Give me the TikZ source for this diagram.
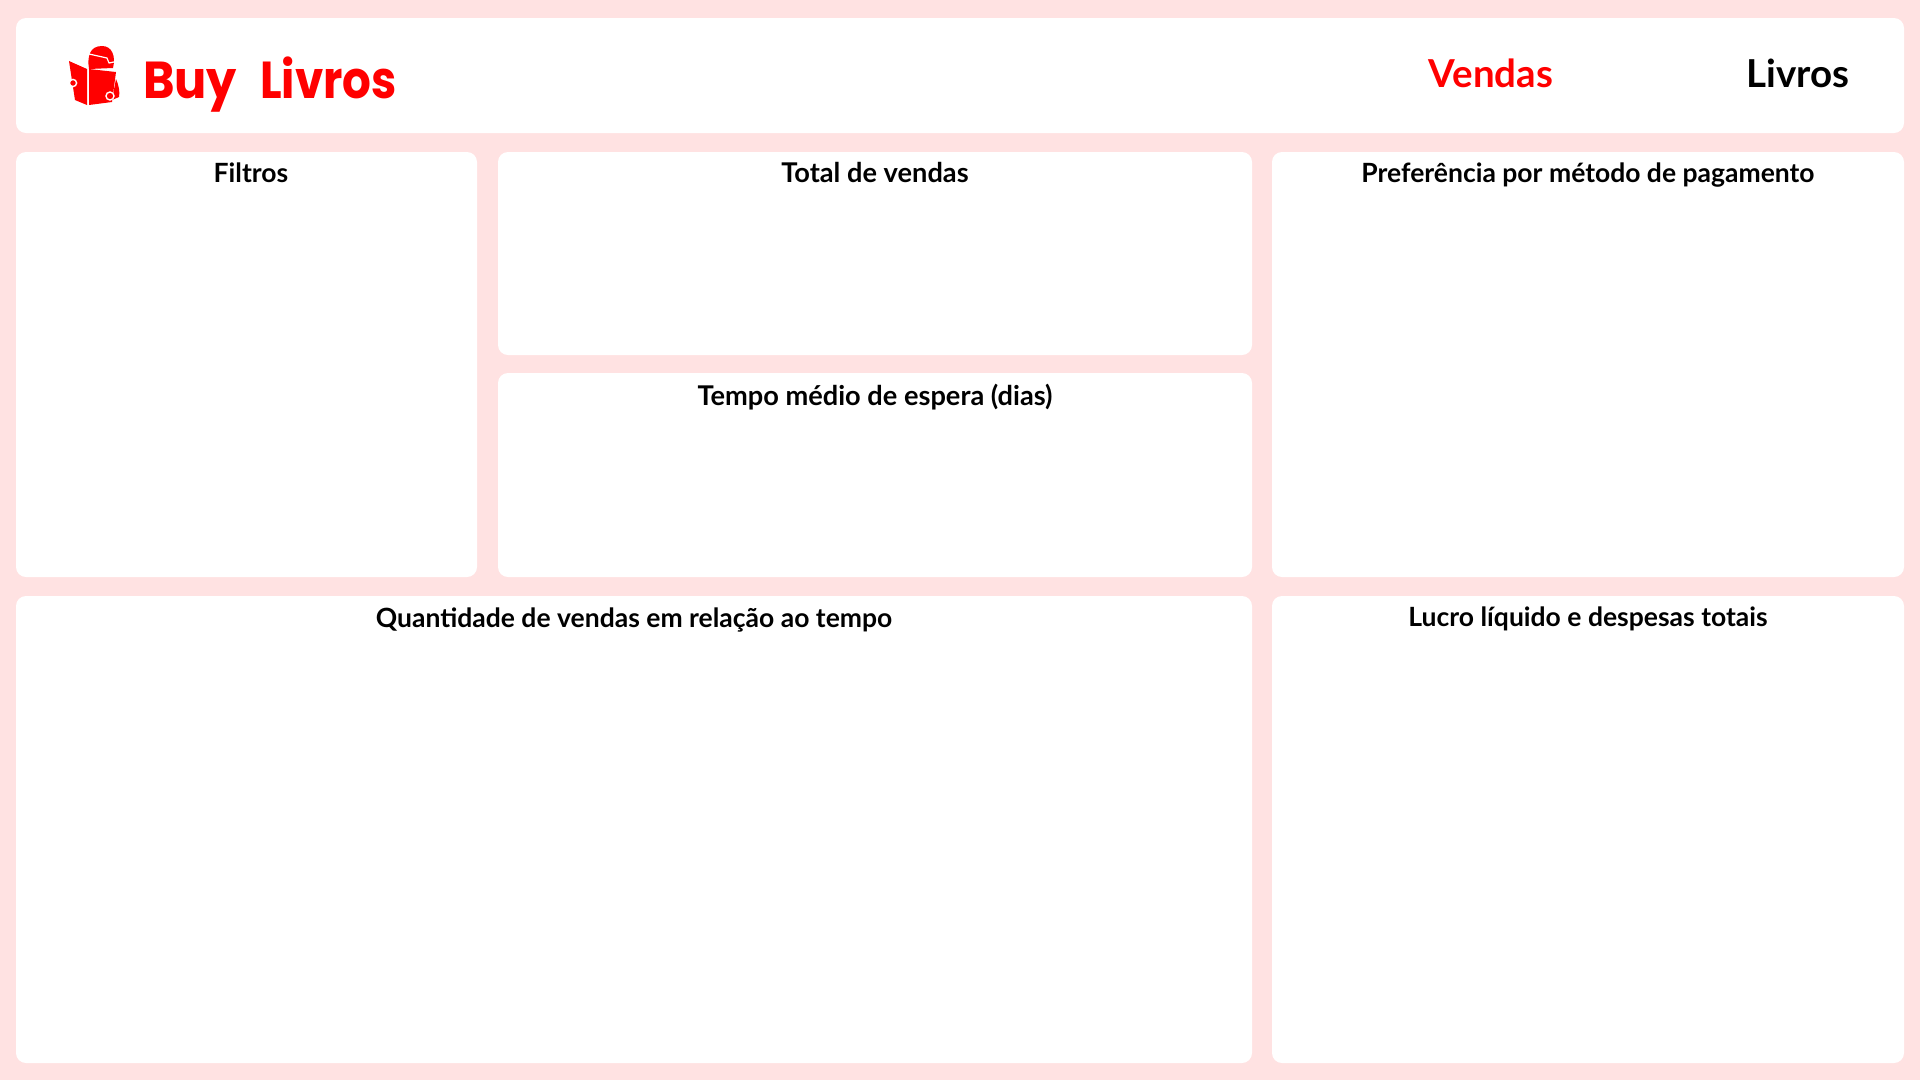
\documentclass[tikz,border=0pt]{standalone}
\usepackage{fontspec}
\setmainfont{Lato}[BoldFont={Lato Bold}]
\newfontfamily\logofont{Poppins Bold}
\definecolor{pagebg}{HTML}{FFE2E2}
\definecolor{brandred}{HTML}{FF0000}
\tikzset{
  panel/.style={fill=white,draw=none,rounded corners=10pt},
  paneltitle/.style={font=\bfseries\fontsize{26.5}{30}\selectfont,text=black,inner sep=0pt,anchor=base},
  paneltitlewide/.style={paneltitle,font=\bfseries\fontsize{27.2}{30}\selectfont},
  navlabel/.style={font=\bfseries\fontsize{38.5}{42}\selectfont,inner sep=0pt,anchor=base},
  logotext/.style={font=\logofont\fontsize{52}{56}\selectfont,text=brandred,inner sep=0pt,anchor=base west},
  iconsep/.style={draw=white,line width=1.2pt,line join=round},
  iconhand/.style={fill=brandred,draw=white,line width=1.4pt}
}
\begin{document}
\begin{tikzpicture}[x=1pt,y=-1pt]
\useasboundingbox (0,0) rectangle (1920,1080);
\fill[pagebg] (0,0) rectangle (1920,1080);
\fill[panel] (16,18) rectangle (1904,133);
\fill[panel] (16,152) rectangle (477,577);
\fill[panel] (498,152) rectangle (1252,355);
\fill[panel] (498,373) rectangle (1252,577);
\fill[panel] (1272,152) rectangle (1904,577);
\fill[panel] (16,596) rectangle (1252,1063);
\fill[panel] (1272,596) rectangle (1904,1063);
\node[paneltitle] (t1) at (251,182) {Filtros};
\node[paneltitlewide] (t2) at (875,182) {Total de vendas};
\node[paneltitlewide] (t3) at (875,405) {Tempo médio de espera (dias)};
\node[paneltitle] (t4) at (1588,182) {Preferência por método de pagamento};
\node[paneltitle] (t5) at (634,627) {Quantidade de vendas em relação ao tempo};
\node[paneltitle] (t6) at (1588,626) {Lucro líquido e despesas totais};
\node[navlabel,text=brandred] (nav1) at (1491,87) {Vendas};
\node[navlabel,text=black] (nav2) at (1798,87) {Livros};
\node[logotext] (logo1) at (143,98) {\scalebox{0.92}[1]{Buy}};
\node[logotext] (logo2) at (260,98) {\scalebox{0.87}[1]{Livros}};
% logo icon: head
\fill[brandred] (89,69) .. controls (87,56) and (90,46) .. (102,46) .. controls (112,46) and (116,56) .. (113,68) -- cycle;
\draw[iconsep] (89,54) -- (107,58) -- (109,63) -- (114,62);
% body behind the book
\fill[brandred] (116,79) .. controls (119,86) and (120,92) .. (119,97) -- (112,100) -- cycle;
% book pages
\fill[brandred] (69,61) -- (87,69) -- (87,105) -- (75,100) -- cycle;
\fill[brandred] (89,69) -- (116,72) -- (112,102) -- (89,105) -- cycle;
% hands
\filldraw[iconhand] (73,83) circle (3.6pt);
\filldraw[iconhand] (110,96) circle (4pt);
\end{tikzpicture}
\end{document}
